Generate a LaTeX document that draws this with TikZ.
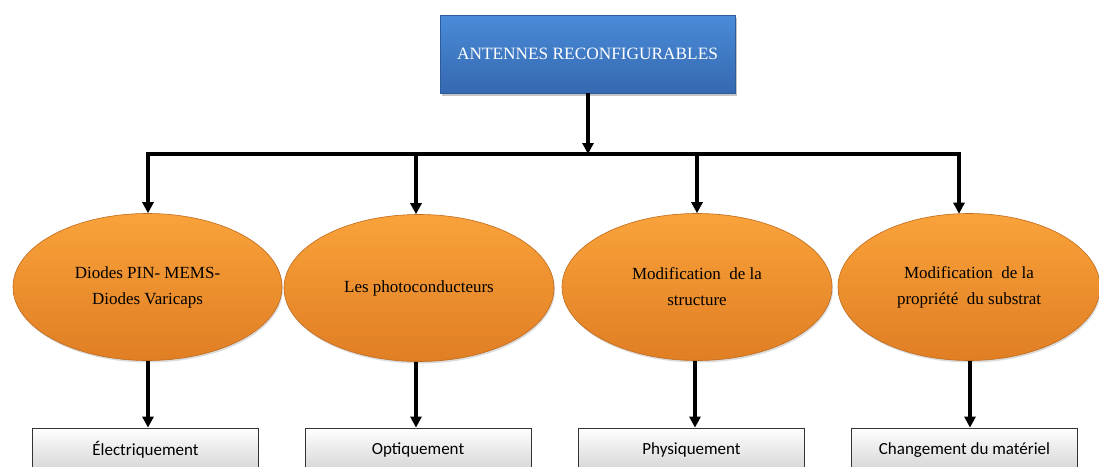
\documentclass[tikz,border=0pt]{standalone}
\usepackage{fontspec}
\setmainfont{Liberation Serif}
\newfontfamily\serifbody{Liberation Serif}
\newfontfamily\boxfont{Carlito}
\usetikzlibrary{shapes.geometric,arrows.meta,shadows}
\definecolor{blueTop}{HTML}{4A8BD8}
\definecolor{blueBot}{HTML}{3568B0}
\definecolor{blueBorder}{HTML}{2E5C9A}
\definecolor{orTop}{HTML}{F9A23A}
\definecolor{orMid}{HTML}{F5952E}
\definecolor{orBot}{HTML}{E07E24}
\definecolor{orBorder}{HTML}{C06A1C}
\definecolor{grayBot}{HTML}{D4D4D4}
\tikzset{
  topbox/.style={rectangle, draw=blueBorder, line width=0.6pt, top color=blueTop, bottom color=blueBot,
    minimum width=295pt, minimum height=78pt, inner sep=0pt, text=white,
    font=\serifbody\fontsize{17.3}{20}\selectfont,
    drop shadow={shadow xshift=2pt, shadow yshift=-3pt, fill=black!45, opacity=0.5}},
  oval/.style={ellipse, draw=orBorder, line width=0.6pt, top color=orTop, middle color=orMid, bottom color=orBot,
    minimum width=269pt, minimum height=147pt, inner sep=0pt, align=center,
    font=\serifbody\fontsize{17}{26}\selectfont,
    drop shadow={shadow xshift=1pt, shadow yshift=-2pt, fill=black!40, opacity=0.35}},
  leaf/.style={rectangle, draw=black!80, line width=0.8pt, top color=white, bottom color=grayBot,
    minimum width=226pt, minimum height=44pt, inner sep=0pt,
    font=\boxfont\fontsize{17}{20}\selectfont},
  conn/.style={line width=3.2pt, black},
  arr/.style={conn, -{Triangle[length=11pt,width=11pt]}}
}
\begin{document}
\begin{tikzpicture}[x=1pt,y=-1pt]
\useasboundingbox (0,0) rectangle (1099,466);
\clip (0,0) rectangle (1099,466);
% nodes
\node[topbox] (top) at (587.5,54) {ANTENNES RECONFIGURABLES};
\node[oval] (e1) at (147.5,287) {Diodes PIN- MEMS-\\Diodes Varicaps};
\node[oval, minimum width=270pt] (e2) at (419,288) {Les photoconducteurs};
\node[oval, minimum width=270pt] (e3) at (697,287) {Modification\ \ de la\\structure};
\node[oval, minimum width=262pt] (e4) at (969,287) {Modification\ \ de la\\propriété\ \ du substrat};
\node[leaf] (r1) at (145.5,450) {Électriquement};
\node[leaf] (r2) at (418,450) {Optiquement};
\node[leaf] (r3) at (691.5,450) {Physiquement};
\node[leaf] (r4) at (964.5,450) {Changement du matériel};
% bus
\coordinate (b0) at (588,154);
\coordinate (b1) at (148,154);
\coordinate (b2) at (416,154);
\coordinate (b3) at (697,154);
\coordinate (b4) at (959,154);
\draw[arr] (top.south -| b0) -- (b0);
\draw[conn, line cap=rect] (b1) -- (b4);
\draw[arr] (b1) -- (b1 |- e1.north);
\draw[arr] (b2) -- (b2 |- e2.north);
\draw[arr] (b3) -- (b3 |- e3.north);
\draw[arr] (b4) -- ([yshift=-0.5pt]b4 |- e4.north);
% down arrows
\coordinate (d1) at (148,362);
\coordinate (d2) at (416,362);
\coordinate (d3) at (695,362);
\coordinate (d4) at (970,362);
\draw[arr] (e1.south -| d1) -- (d1 |- r1.north);
\draw[arr] (e2.south -| d2) -- (d2 |- r2.north);
\draw[arr] (e3.south -| d3) -- (d3 |- r3.north);
\draw[arr] (e4.south -| d4) -- (d4 |- r4.north);
\end{tikzpicture}
\end{document}
